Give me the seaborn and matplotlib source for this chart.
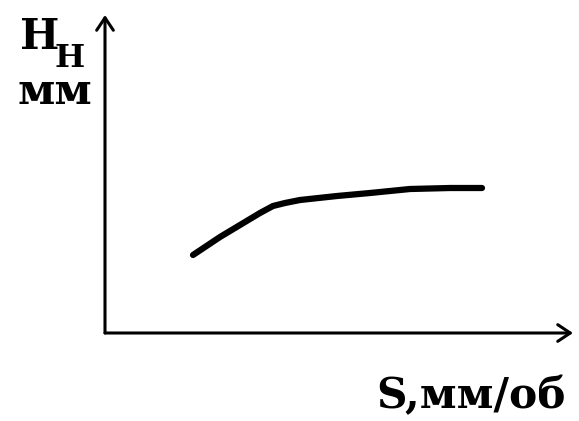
import matplotlib
matplotlib.use("Agg")
import matplotlib.pyplot as plt
import seaborn as sns
import pandas as pd

# Feed rate S (mm/rev) and hole deviation H_н (mm), schematic curve
feed_s = [0.88, 1.15, 1.40, 1.55, 1.68, 1.80, 1.95, 2.32, 2.65, 3.05, 3.45, 3.77]
depth_h = [0.78, 0.96, 1.11, 1.20, 1.27, 1.30, 1.33, 1.37, 1.40, 1.44, 1.45, 1.45]

y_label_main = "Н"
y_label_sub = "Н"
y_label_unit = "мм"
x_label = "S,мм/об"

sns.set_style("white")
plt.rcParams["font.family"] = ["DejaVu Serif"]

fig = plt.figure(figsize=(5.79, 4.21), dpi=100)
ax = fig.add_axes([0, 0, 1, 1])
ax.set_xlim(-1.05, 4.74)
ax.set_ylim(-0.88, 3.33)
ax.axis("off")

df = pd.DataFrame({"S": feed_s, "H": depth_h})
sns.lineplot(data=df, x="S", y="H", ax=ax, color="black", linewidth=4.5,
             solid_capstyle="round", solid_joinstyle="round",
             estimator=None, sort=False)

# Axes with open arrowheads
arrow = dict(arrowstyle="->,head_length=0.9,head_width=0.6", color="black", lw=2.2,
             shrinkA=0, shrinkB=0)
ax.annotate("", xy=(0, 3.18), xytext=(0, 0), arrowprops=arrow)
ax.annotate("", xy=(4.68, 0), xytext=(0, 0), arrowprops=arrow)

txt = dict(transform=fig.transFigure, fontweight="bold", color="black")
ax.text(0.034, 0.962, y_label_main, fontsize=30, ha="left", va="top", **txt)
ax.text(0.094, 0.842, y_label_sub, fontsize=23, ha="left", va="baseline", **txt)
ax.text(0.030, 0.752, y_label_unit, fontsize=31, ha="left", va="baseline", **txt)
ax.text(0.650, 0.031, x_label, fontsize=30.5, ha="left", va="baseline", **txt)

fig.savefig("out.png", dpi=100)
